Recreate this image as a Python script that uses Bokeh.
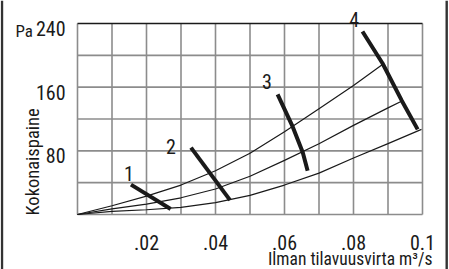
import math
from bokeh.plotting import figure
from bokeh.models import Range1d, BoxAnnotation
from bokeh.core.properties import value
from bokeh.embed import file_html
from bokeh.resources import INLINE

# ---- data ----
x_grid = [0.0, 0.01, 0.02, 0.03, 0.04, 0.05, 0.06, 0.07, 0.08, 0.09, 0.1]
y_grid = [0, 40, 80, 120, 160, 200, 240]
x_ticks = [0.02, 0.04, 0.06, 0.08, 0.1]
x_tick_labels = [".02", ".04", ".06", ".08", "0.1"]
y_ticks = [80, 160, 240]
y_tick_labels = ["80", "160", "240"]

sys_high_x = [0.0, 0.01, 0.02, 0.03, 0.04, 0.05, 0.06, 0.07, 0.08, 0.0886]
sys_high_y = [0, 11, 23, 37, 55, 77, 104, 133, 162, 189]
sys_mid_x = [0.0, 0.01, 0.02, 0.03, 0.04, 0.05, 0.06, 0.07, 0.08, 0.09, 0.0942]
sys_mid_y = [0, 7, 13, 21, 32, 48, 68, 89, 112, 134, 143]
sys_low_x = [0.0, 0.01, 0.02, 0.03, 0.04, 0.05, 0.06, 0.07, 0.08, 0.09, 0.0997]
sys_low_y = [0, 4, 6, 9, 15, 24, 37, 52, 71, 89, 107]

fan1_x = [0.0155, 0.027]
fan1_y = [37.5, 7]
fan2_x = [0.0329, 0.0442]
fan2_y = [84, 18]
fan3_x = [0.058, 0.0624, 0.0653, 0.0667]
fan3_y = [151, 110, 78, 55]
fan4_x = [0.0826, 0.0884, 0.094, 0.0986]
fan4_y = [230, 190, 143, 107]

fan_labels = ["1", "2", "3", "4"]
fan_label_x = [0.0149, 0.0271, 0.0549, 0.0802]
fan_label_y = [52, 85, 167, 245]

x_title = "Ilman tilavuusvirta m³/s"
y_title = "Kokonaispaine"
y_unit = "Pa"

# ---- style / layout ----
FONT = value("Roboto Condensed, Noto Sans Condensed, DejaVu Sans Condensed, sans-serif")
FS = value("20px")
FS_UNIT = value("17px")
FS_YTITLE = value("18.5px")
FS_XTITLE = value("17.5px")
INK = "#1a1a1a"
GRID = "#8c8c8c"

W, H = 449, 269
F_LEFT, F_RIGHT, F_TOP, F_BOTTOM = 77, 422, 23, 214   # plot area inside the canvas, px

x0, x1 = x_grid[0], x_grid[-1]
y0, y1 = y_grid[0], y_grid[-1]
ux = (x1 - x0) / (F_RIGHT - F_LEFT)
uy = (y1 - y0) / (F_BOTTOM - F_TOP)

p = figure(width=W, height=H,
           x_range=Range1d(x0 - F_LEFT * ux, x0 + (W - F_LEFT) * ux),
           y_range=Range1d(y0 - (H - F_BOTTOM) * uy, y1 + F_TOP * uy),
           x_axis_type=None, y_axis_type=None,
           output_backend="svg", toolbar_location=None, min_border=0)
p.outline_line_color = None
p.grid.visible = False
p.background_fill_color = "white"
p.border_fill_color = "white"

# grid
nx, ny = len(x_grid), len(y_grid) - 1
p.segment(x0=x_grid, y0=[y0] * nx, x1=x_grid, y1=[y1] * nx, line_color=GRID, line_width=1.6)
p.segment(x0=[x0] * ny, y0=y_grid[:-1], x1=[x1] * ny, y1=y_grid[:-1], line_color=GRID, line_width=1.6)
p.segment(x0=[x0], y0=[y1], x1=[x1], y1=[y1], line_color=INK, line_width=1.6)

# system curves
for xs, ys in ((sys_high_x, sys_high_y), (sys_mid_x, sys_mid_y), (sys_low_x, sys_low_y)):
    p.line(xs, ys, line_color=INK, line_width=1.2)

# fan curves
for xs, ys in ((fan1_x, fan1_y), (fan2_x, fan2_y), (fan3_x, fan3_y), (fan4_x, fan4_y)):
    p.line(xs, ys, line_color=INK, line_width=4)

txt = dict(text_font=FONT, text_color=INK)

p.text(x=fan_label_x, y=fan_label_y, text=fan_labels, text_align="center",
       text_baseline="alphabetic", text_font_size=FS, **txt)

# tick labels
p.text(x=x_ticks, y=[y0] * len(x_ticks), text=x_tick_labels, text_align="center",
       text_baseline="alphabetic", y_offset=28, text_font_size=FS, **txt)
p.text(x=[x0] * len(y_ticks), y=y_ticks, text=y_tick_labels, text_align="right",
       text_baseline="middle", x_offset=-12, y_offset=5, text_font_size=FS, **txt)

# titles
p.text(x=[x0], y=[y1], text=[y_unit], text_align="left", text_baseline="alphabetic",
       x_offset=-62, y_offset=7, text_font_size=FS_UNIT, **txt)
p.text(x=[x0], y=[y0], text=[y_title], angle=math.pi / 2, text_align="left",
       text_baseline="alphabetic", x_offset=-45, y_offset=1, text_font_size=FS_YTITLE, **txt)
p.text(x=[x1], y=[y0], text=[x_title], text_align="right", text_baseline="alphabetic",
       x_offset=10, y_offset=44, text_font_size=FS_XTITLE, **txt)

# side rules
for left in (0.3, 445):
    p.add_layout(BoxAnnotation(left=left, right=left + 2.4, top=0, bottom=H,
                               left_units="canvas", right_units="canvas",
                               top_units="canvas", bottom_units="canvas",
                               fill_color="#333333", fill_alpha=1, line_color=None))

open("out.html", "w").write(file_html(p, INLINE))
